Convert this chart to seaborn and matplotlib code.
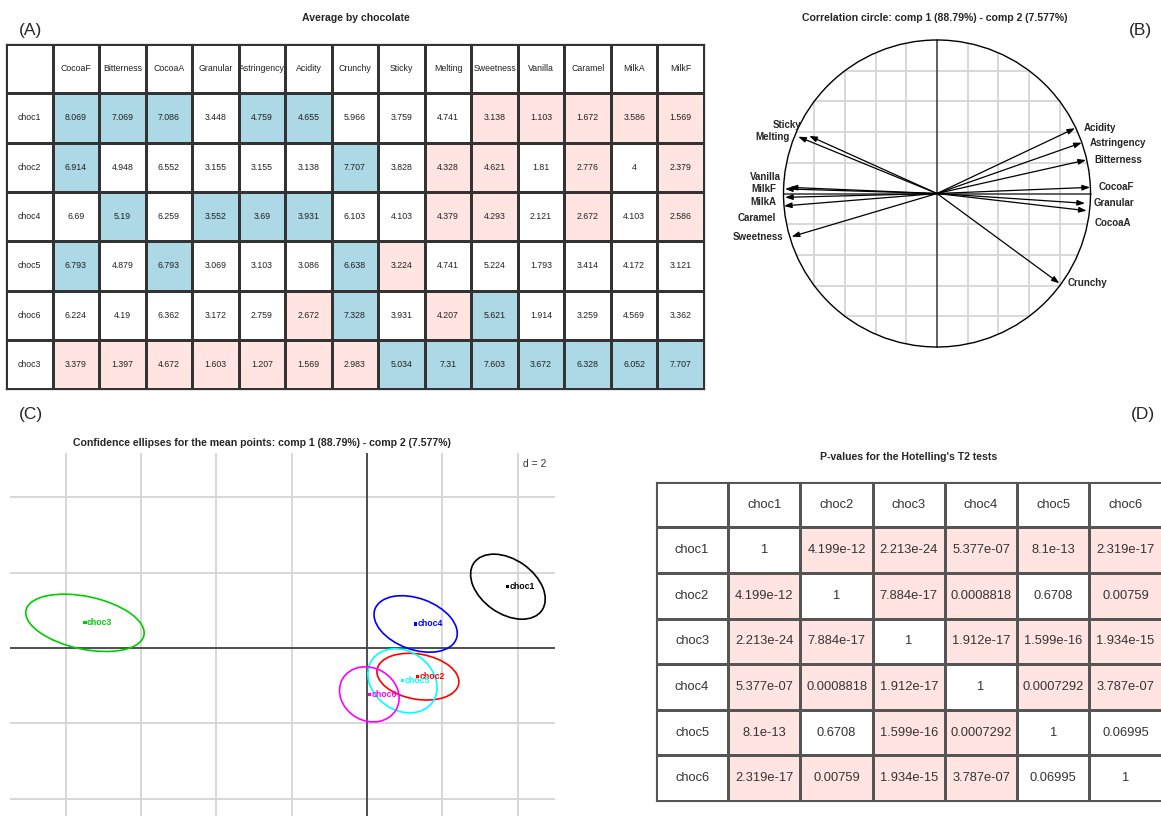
import numpy as np
import pandas as pd
import matplotlib
matplotlib.use('Agg')
import matplotlib.pyplot as plt
import seaborn as sns
from matplotlib.colors import ListedColormap
from matplotlib.patches import Ellipse, Circle

sns.set_style('white')
plt.rcParams['font.family'] = ['Liberation Sans', 'DejaVu Sans']

# ---- (A) average by chocolate ----
avg_rows = ['choc1', 'choc2', 'choc4', 'choc5', 'choc6', 'choc3']
attributes = ['CocoaF', 'Bitterness', 'CocoaA', 'Granular', 'Astringency', 'Acidity', 'Crunchy',
              'Sticky', 'Melting', 'Sweetness', 'Vanilla', 'Caramel', 'MilkA', 'MilkF']
choc1_avg = [8.069, 7.069, 7.086, 3.448, 4.759, 4.655, 5.966, 3.759, 4.741, 3.138, 1.103, 1.672, 3.586, 1.569]
choc2_avg = [6.914, 4.948, 6.552, 3.155, 3.155, 3.138, 7.707, 3.828, 4.328, 4.621, 1.81, 2.776, 4, 2.379]
choc4_avg = [6.69, 5.19, 6.259, 3.552, 3.69, 3.931, 6.103, 4.103, 4.379, 4.293, 2.121, 2.672, 4.103, 2.586]
choc5_avg = [6.793, 4.879, 6.793, 3.069, 3.103, 3.086, 6.638, 3.224, 4.741, 5.224, 1.793, 3.414, 4.172, 3.121]
choc6_avg = [6.224, 4.19, 6.362, 3.172, 2.759, 2.672, 7.328, 3.931, 4.207, 5.621, 1.914, 3.259, 4.569, 3.362]
choc3_avg = [3.379, 1.397, 4.672, 1.603, 1.207, 1.569, 2.983, 5.034, 7.31, 7.603, 3.672, 6.328, 6.052, 7.707]
# + significantly above, - significantly below, 0 not significant
choc1_sig = '+++0++000-----'
choc2_sig = '+00000+0--0-0-'
choc4_sig = '0+0+++00--0-0-'
choc5_sig = '+0+000+-000000'
choc6_sig = '00000-+0-+0000'
choc3_sig = '-------+++++++'

# ---- (B) correlation circle ----
corr_vars = ['CocoaF', 'Bitterness', 'CocoaA', 'Granular', 'Astringency', 'Acidity', 'Crunchy',
             'Sticky', 'Melting', 'Sweetness', 'Vanilla', 'Caramel', 'MilkA', 'MilkF']
corr_comp1 = [0.997, 0.971, 0.975, 0.964, 0.943, 0.899, 0.797, -0.832, -0.904, -0.947, -0.96, -0.997, -0.99, -0.99]
corr_comp2 = [0.040, 0.218, -0.112, -0.064, 0.331, 0.425, -0.585, 0.375, 0.370, -0.281, 0.04, -0.081, -0.025, 0.03]

# ---- (C) mean points and confidence ellipses ----
mean_chocs = ['choc1', 'choc2', 'choc3', 'choc4', 'choc5', 'choc6']
mean_comp1 = [3.74, 1.35, -7.49, 1.29, 0.94, 0.06]
mean_comp2 = [1.63, -0.76, 0.67, 0.64, -0.87, -1.23]
ell_a = [1.10, 1.10, 1.60, 1.15, 0.98, 0.82]
ell_b = [0.72, 0.60, 0.70, 0.68, 0.78, 0.70]
ell_angle = [-35, -10, -12, -20, -35, -30]
choc_colors = ['black', '#FF0000', '#00CD00', '#0000FF', '#00FFFF', '#FF00FF']

# ---- (D) Hotelling T2 p-values ----
pval_chocs = ['choc1', 'choc2', 'choc3', 'choc4', 'choc5', 'choc6']
pval_choc1 = [1, 4.199e-12, 2.213e-24, 5.377e-07, 8.1e-13, 2.319e-17]
pval_choc2 = [4.199e-12, 1, 7.884e-17, 0.0008818, 0.6708, 0.00759]
pval_choc3 = [2.213e-24, 7.884e-17, 1, 1.912e-17, 1.599e-16, 1.934e-15]
pval_choc4 = [5.377e-07, 0.0008818, 1.912e-17, 1, 0.0007292, 3.787e-07]
pval_choc5 = [8.1e-13, 0.6708, 1.599e-16, 0.0007292, 1, 0.06995]
pval_choc6 = [2.319e-17, 0.00759, 1.934e-15, 3.787e-07, 0.06995, 1]

W, H = 1161, 816
fig = plt.figure(figsize=(W / 100, H / 100), dpi=100)


def px_axes(x0, y0, x1, y1):
    return fig.add_axes([x0 / W, 1 - y1 / H, (x1 - x0) / W, (y1 - y0) / H])


def px_text(x, y, s, **kw):
    fig.text(x / W, 1 - y / H, s, **kw)


cell_cmap = ListedColormap(['white', '#ADD8E6', '#FFE4E1'])


def draw_table(ax, codes, labels, lw, edge, font_kw):
    sns.heatmap(codes, ax=ax, cmap=cell_cmap, vmin=0, vmax=2, cbar=False,
                annot=labels, fmt='', linewidths=lw, linecolor=edge,
                annot_kws=font_kw, xticklabels=False, yticklabels=False)
    for s in ax.spines.values():
        s.set_visible(True)
        s.set_color(edge)
        s.set_linewidth(lw)
    # keep the cell text above the grid lines
    for t in ax.texts:
        t.set_zorder(5)


# panel A table
avg_vals = [choc1_avg, choc2_avg, choc4_avg, choc5_avg, choc6_avg, choc3_avg]
avg_sig = [choc1_sig, choc2_sig, choc4_sig, choc5_sig, choc6_sig, choc3_sig]
sig_code = {'0': 0, '+': 1, '-': 2}
codes_a = np.zeros((len(avg_rows) + 1, len(attributes) + 1))
labels_a = np.full(codes_a.shape, '', dtype=object)
labels_a[0, 1:] = attributes
for i, name in enumerate(avg_rows):
    labels_a[i + 1, 0] = name
    labels_a[i + 1, 1:] = ['{:.4g}'.format(v) for v in avg_vals[i]]
    codes_a[i + 1, 1:] = [sig_code[c] for c in avg_sig[i]]
ax_a = px_axes(6, 44, 704, 389.3)
draw_table(ax_a, codes_a, labels_a, 0.9, '#333333', {'fontsize': 6.3, 'color': '#222222'})

# panel D table
pvals = [pval_choc1, pval_choc2, pval_choc3, pval_choc4, pval_choc5, pval_choc6]
codes_d = np.zeros((len(pval_chocs) + 1, len(pval_chocs) + 1))
labels_d = np.full(codes_d.shape, '', dtype=object)
labels_d[0, 1:] = pval_chocs
for i, name in enumerate(pval_chocs):
    labels_d[i + 1, 0] = name
    labels_d[i + 1, 1:] = ['{:.4g}'.format(p) for p in pvals[i]]
    codes_d[i + 1, 1:] = [2 if p < 0.05 else 0 for p in pvals[i]]
ax_d = px_axes(656, 481.7, 1161.6, 801)
draw_table(ax_d, codes_d, labels_d, 0.8, '#555555', {'fontsize': 9.3, 'color': '#333333'})

# panel B correlation circle
R = 153.5
L = 1.25
cx, cy = 937, 193.5
ax_b = px_axes(cx - L * R, cy - L * R, cx + L * R, cy + L * R)
ax_b.set_xlim(-L, L)
ax_b.set_ylim(-L, L)
ax_b.axis('off')
for v in np.arange(-0.8, 0.81, 0.2):
    if abs(v) < 1e-9:
        continue
    h = np.sqrt(1 - v ** 2)
    ax_b.plot([v, v], [-h, h], color='#D6D6D6', lw=1.3, zorder=1)
    ax_b.plot([-h, h], [v, v], color='#D6D6D6', lw=1.3, zorder=1)
ax_b.plot([-1, 1], [0, 0], color='#444444', lw=1.2, zorder=2)
ax_b.plot([0, 0], [-1, 1], color='#444444', lw=1.2, zorder=2)
ax_b.add_patch(Circle((0, 0), 1, fill=False, ec='black', lw=1.0, zorder=3))
label_nudge = {'Sticky': 0.07, 'Vanilla': 0.07, 'MilkA': -0.03, 'Caramel': -0.08, 'CocoaA': -0.08}
for name, x, y in zip(corr_vars, corr_comp1, corr_comp2):
    ax_b.annotate('', xy=(x, y), xytext=(0, 0),
                  arrowprops=dict(arrowstyle='-|>,head_length=0.5,head_width=0.18', color='black',
                                  lw=0.9, mutation_scale=9, shrinkA=0, shrinkB=0), zorder=4)
    side = 1 if x > 0 else -1
    ax_b.text(x + side * 0.055, y + label_nudge.get(name, 0), name, ha='left' if side > 0 else 'right',
              va='center', fontsize=7, fontweight='bold', clip_on=False)

# panel C confidence ellipses
ax_c = px_axes(10, 453, 555, 816)
ax_c.set_xlim(-9.48, 4.99)
ax_c.set_ylim(-4.46, 5.18)
ax_c.set_xticks(np.arange(-8, 5, 2))
ax_c.set_yticks(np.arange(-4, 5, 2))
ax_c.grid(True, color='#D6D6D6', lw=1.3)
ax_c.tick_params(length=0, labelbottom=False, labelleft=False)
for s in ax_c.spines.values():
    s.set_visible(False)
ax_c.axhline(0, color='#444444', lw=1.3)
ax_c.axvline(0, color='#444444', lw=1.3)
df_c = pd.DataFrame({'choc': mean_chocs, 'comp1': mean_comp1, 'comp2': mean_comp2})
sns.scatterplot(data=df_c, x='comp1', y='comp2', hue='choc', palette=dict(zip(mean_chocs, choc_colors)),
                marker='s', s=5, linewidth=0, legend=False, ax=ax_c, zorder=4)
ax_c.set_xlabel('')
ax_c.set_ylabel('')
for i, name in enumerate(mean_chocs):
    ax_c.add_patch(Ellipse((mean_comp1[i], mean_comp2[i]), 2 * ell_a[i], 2 * ell_b[i], angle=ell_angle[i],
                           fill=False, ec=choc_colors[i], lw=1.2, zorder=3))
    ax_c.annotate(name, (mean_comp1[i], mean_comp2[i]), xytext=(1.5, 0), textcoords='offset points',
                  ha='left', va='center', fontsize=6.3, fontweight='bold', color=choc_colors[i], zorder=5)
ax_c.text(0.985, 0.97, 'd = 2', transform=ax_c.transAxes, ha='right', va='center', fontsize=7.5, color='#333333')

# titles and panel letters
title_kw = dict(ha='center', va='center', fontsize=7.6, fontweight='bold')
px_text(356, 18, 'Average by chocolate', **title_kw)
px_text(934.5, 18, 'Correlation circle: comp 1 (88.79%) - comp 2 (7.577%)', **title_kw)
px_text(262, 443, 'Confidence ellipses for the mean points: comp 1 (88.79%) - comp 2 (7.577%)', **title_kw)
px_text(908.5, 457, "P-values for the Hotelling's T2 tests", **title_kw)
for letter, x, y in [('(A)', 31, 31), ('(B)', 1140, 30), ('(C)', 31, 414), ('(D)', 1143, 414)]:
    px_text(x, y, letter, ha='center', va='center', fontsize=12.5)

fig.savefig('out.png', dpi=100)
